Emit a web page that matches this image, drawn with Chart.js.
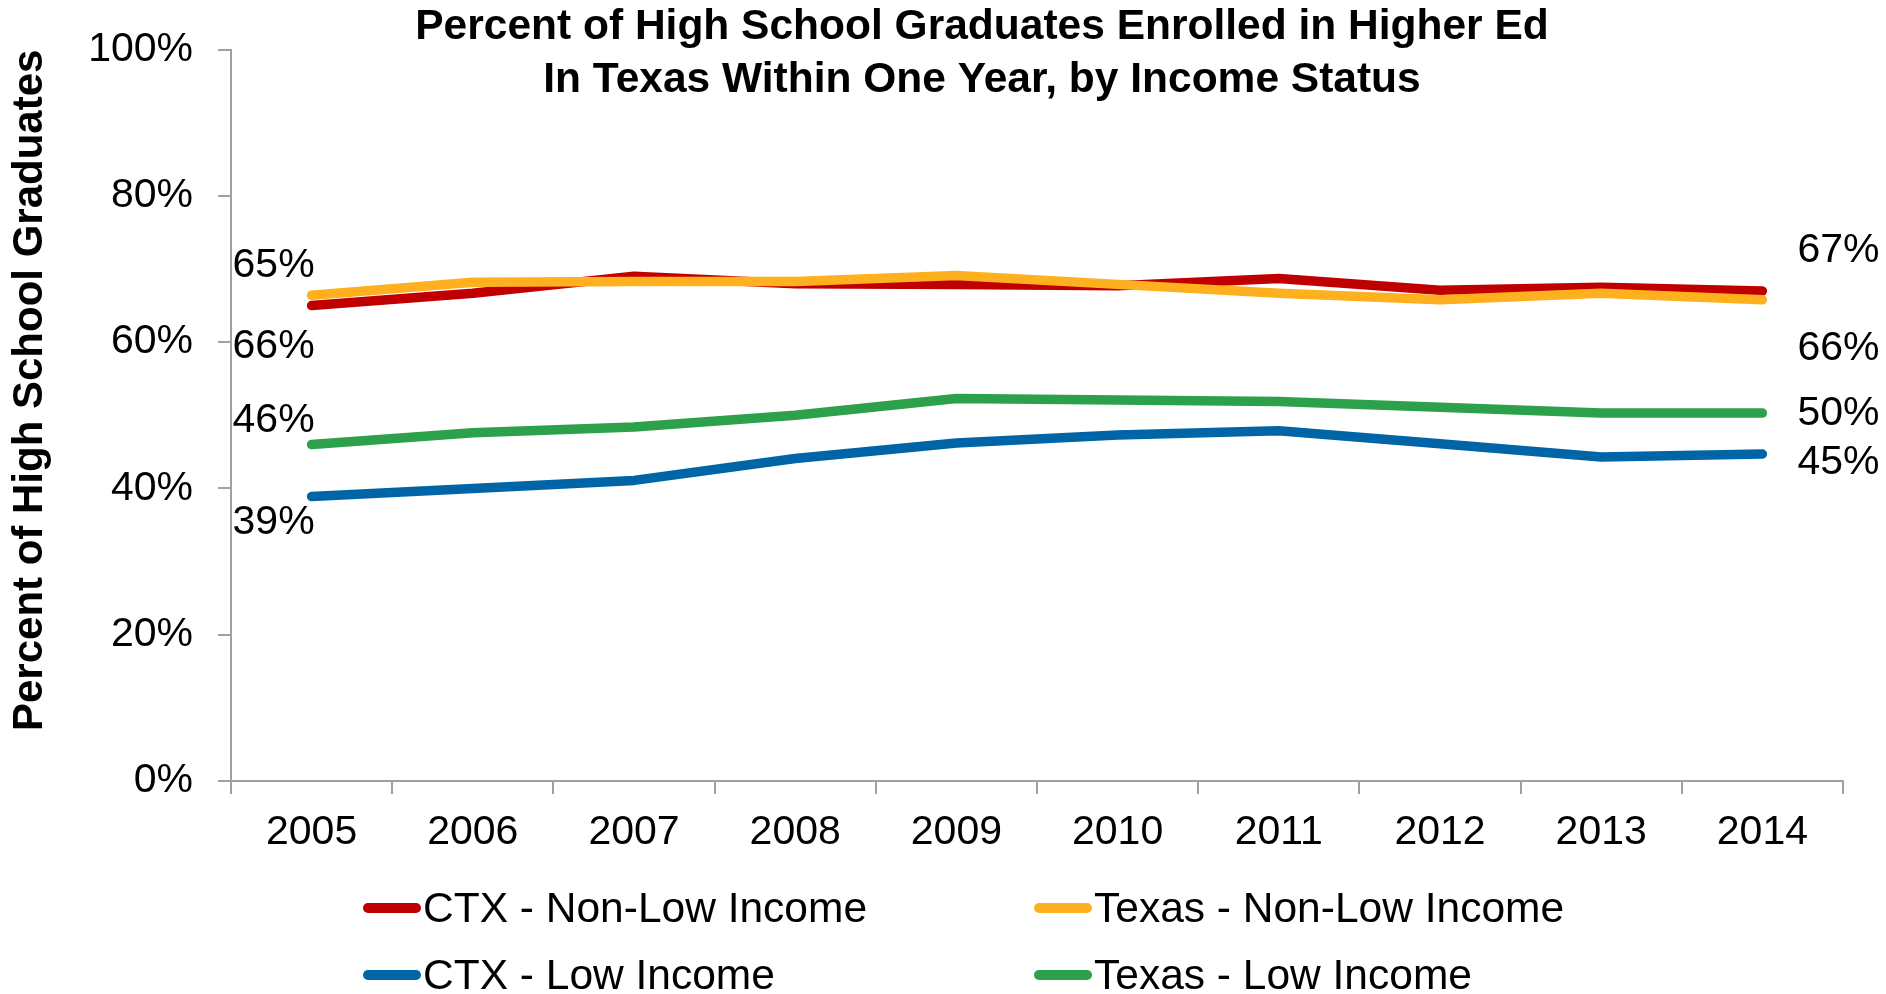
<!DOCTYPE html>
<html>
<head>
<meta charset="utf-8">
<script src="https://cdn.jsdelivr.net/npm/chart.js@4.4.1/dist/chart.umd.min.js"></script>
<style>
  body { margin: 0; background: #fff; }
  #wrap { position: relative; width: 1886px; height: 994px; }
  #legend { position: absolute; left: 0; top: 0; font-family: "Liberation Sans", Arial, sans-serif; font-size: 42.5px; color: #000; }
  .item { position: absolute; display: flex; align-items: center; height: 50px; margin-top: -25px; white-space: nowrap; }
  .swatch { width: 58px; height: 10px; border-radius: 5px; margin-right: 2px; }
</style>
</head>
<body>
<div id="wrap">
  <canvas id="chart" width="1886" height="994"></canvas>
  <div id="legend"></div>
</div>
<script>
// data
const years = ["2005", "2006", "2007", "2008", "2009", "2010", "2011", "2012", "2013", "2014"];
const ctxNonLow = [65.0, 66.7, 69.0, 68.0, 67.9, 67.7, 68.7, 67.1, 67.5, 67.0];
const texasNonLow = [66.4, 68.2, 68.3, 68.3, 69.1, 67.9, 66.7, 65.8, 66.7, 65.8];
const ctxLow = [38.9, 40.0, 41.1, 44.1, 46.2, 47.3, 47.9, 46.1, 44.3, 44.7];
const texasLow = [46.0, 47.6, 48.4, 50.0, 52.3, 52.1, 51.9, 51.1, 50.3, 50.3];
const seriesNames = ["CTX - Non-Low Income", "Texas - Non-Low Income", "CTX - Low Income", "Texas - Low Income"];
const yTicks = [0, 20, 40, 60, 80, 100];

const colors = ["#C00000", "#FFB01E", "#0065A6", "#2CA04B"];
const FONT = '"Liberation Sans", Arial, sans-serif';

// where the first / last value labels sit relative to their point (px)
const labelOffsets = [[-40, -40], [51, 49], [26, 9], [-24, 1]];

const endLabels = {
  id: "endLabels",
  afterDatasetsDraw(chart) {
    const ctx = chart.ctx;
    ctx.save();
    ctx.font = "41px " + FONT;
    ctx.fillStyle = "#000";
    ctx.textBaseline = "middle";
    chart.data.datasets.forEach((ds, i) => {
      const pts = chart.getDatasetMeta(i).data;
      const first = pts[0];
      const last = pts[pts.length - 1];
      ctx.textAlign = "center";
      ctx.fillText(Math.round(ds.data[0]) + "%", first.x - 38, first.y + labelOffsets[i][0]);
      ctx.textAlign = "left";
      ctx.fillText(Math.round(ds.data[ds.data.length - 1]) + "%", last.x + 35, last.y + labelOffsets[i][1]);
    });
    ctx.restore();
  }
};

Chart.defaults.font.family = FONT;
Chart.defaults.color = "#000";

const allSeries = [ctxNonLow, texasNonLow, ctxLow, texasLow];
const drawOrder = [2, 1, 3, 4];

const chart = new Chart(document.getElementById("chart"), {
  type: "line",
  data: {
    labels: years,
    datasets: allSeries.map((d, i) => ({
      label: seriesNames[i],
      data: d,
      borderColor: colors[i],
      backgroundColor: colors[i],
      borderWidth: 9.5,
      borderCapStyle: "round",
      borderJoinStyle: "round",
      pointRadius: 0,
      tension: 0,
      order: drawOrder[i]
    }))
  },
  options: {
    responsive: false,
    animation: false,
    devicePixelRatio: 1,
    layout: { padding: { left: 80, right: 2, top: 0, bottom: 143 } },
    plugins: {
      legend: { display: false },
      tooltip: { enabled: false },
      title: {
        display: true,
        text: ["Percent of High School Graduates Enrolled in Higher Ed", "In Texas Within One Year, by Income Status"],
        font: { size: 42.5, weight: "bold", lineHeight: 1.25 },
        color: "#000",
        padding: { top: -3, bottom: -57 }
      }
    },
    scales: {
      x: {
        offset: true,
        afterFit: (s) => { s.height = 70; },
        grid: { offset: true, drawOnChartArea: false, drawTicks: true, tickLength: 13, color: "#a0a0a0", lineWidth: 2 },
        border: { color: "#a0a0a0", width: 2 },
        ticks: { font: { size: 41 }, padding: 14, color: "#000" }
      },
      y: {
        min: 0,
        max: 100,
        afterFit: (s) => { s.width = 151; },
        afterBuildTicks: (s) => { s.ticks = yTicks.map((v) => ({ value: v })); },
        grid: { drawOnChartArea: false, drawTicks: true, tickLength: 13, color: "#a0a0a0", lineWidth: 2 },
        border: { color: "#a0a0a0", width: 2 },
        ticks: { font: { size: 41 }, padding: 25, color: "#000", callback: (v) => v + "%" },
        title: {
          display: true,
          text: "Percent of High School Graduates",
          align: "end",
          font: { size: 42, weight: "bold" },
          color: "#000",
          padding: { top: -75, bottom: 0 }
        }
      },
      // empty right-hand strip that keeps the plot clear of the end labels
      yRight: {
        position: "right",
        min: 0,
        max: 100,
        afterFit: (s) => { s.width = 41; },
        grid: { display: false },
        border: { display: false },
        ticks: { display: false }
      }
    }
  },
  plugins: [endLabels]
});

// legend laid out in two aligned columns like the original
const legendCols = [363, 1034];
const legendRows = [908, 975];
const legend = document.getElementById("legend");
chart.data.datasets.forEach((ds, i) => {
  const item = document.createElement("div");
  item.className = "item";
  item.style.left = legendCols[i % 2] + "px";
  item.style.top = legendRows[Math.floor(i / 2)] + "px";
  const sw = document.createElement("span");
  sw.className = "swatch";
  sw.style.background = ds.borderColor;
  const txt = document.createElement("span");
  txt.textContent = ds.label;
  item.appendChild(sw);
  item.appendChild(txt);
  legend.appendChild(item);
});
</script>
</body>
</html>
